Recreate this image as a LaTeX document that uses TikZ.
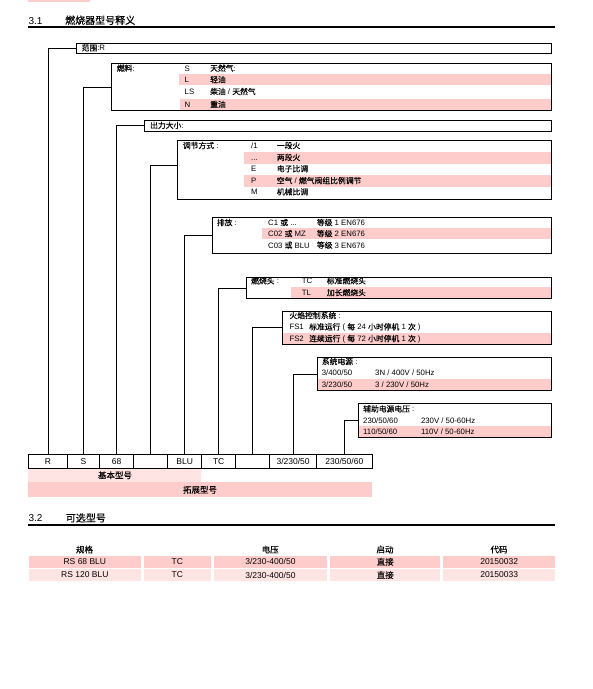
\documentclass[tikz,border=0pt]{standalone}
\usepackage{fontspec}
\setmainfont{Liberation Sans}
\newfontfamily\cjkfont{Noto Sans CJK SC}[FakeBold=0.4]
\XeTeXinterchartokenstate=1
\newcount\cjkcount
\cjkcount="4E00
\loop
  \XeTeXcharclass\cjkcount=77
  \advance\cjkcount by 1
  \ifnum\cjkcount<"A000
\repeat
\XeTeXinterchartoks 0 77 = {\cjkfont}
\XeTeXinterchartoks 4095 77 = {\cjkfont}
\XeTeXinterchartoks 77 0 = {\rmfamily}
\XeTeXinterchartoks 77 4095 = {\rmfamily}
\definecolor{pinkrow}{RGB}{255,204,204}
\definecolor{pinklite}{RGB}{255,228,228}
\begin{document}
\begin{tikzpicture}[x=1pt, y=-1pt,
        box/.style={draw, line width=0.8pt, anchor=north west, inner sep=0pt},
        txt/.style={anchor=base west, inner sep=0pt, font=\fontsize{7.8}{9}\selectfont},
        code/.style={draw, line width=0.8pt, anchor=north west, inner sep=0pt, minimum height=14pt, font=\fontsize{8.5}{10}\selectfont},
        cell/.style={anchor=north west, inner sep=0pt, font=\fontsize{8.5}{10}\selectfont},
        colhead/.style={anchor=base, inner sep=0pt, font=\fontsize{8.5}{10}\selectfont},
        head/.style={anchor=base west, inner sep=0pt, font=\fontsize{10}{12}\selectfont},
        link/.style={line width=0.8pt}]
        \useasboundingbox (0,0) rectangle (593,689);
        \fill[pinkrow] (28.3,0) rectangle (90,1.5);

        \node[head] (num31) at (28.3,24) {3.1};
        \node[head] (title31) at (65,24) {燃烧器型号释义};
        \draw[line width=2pt] (28.3,26.7) -- (555,26.7);

        \fill[pinkrow] (178.5,74) rectangle (550.5,85.3);
        \fill[pinkrow] (180,99.3) rectangle (550.5,110.3);
        \fill[pinkrow] (244,152.3) rectangle (550.5,163.5);
        \fill[pinkrow] (244,175) rectangle (550.5,186.7);
        \fill[pinkrow] (262.3,228.3) rectangle (550.5,239.3);
        \fill[pinkrow] (291,287.3) rectangle (550.5,298.3);
        \fill[pinkrow] (282.3,333.3) rectangle (550.5,344);
        \fill[pinkrow] (316.7,379.3) rectangle (550.5,390.3);
        \fill[pinkrow] (357.7,426) rectangle (550.5,437);

        \node[box, minimum width=474.5pt, minimum height=10.6pt] (range) at (76,42.7) {};
        \node[box, minimum width=439.2pt, minimum height=47.6pt] (fuel) at (111.3,62.7) {};
        \node[box, minimum width=406.2pt, minimum height=11.8pt] (power) at (144.3,119.5) {};
        \node[box, minimum width=373.2pt, minimum height=58.3pt] (modul) at (177.3,140.3) {};
        \node[box, minimum width=339pt, minimum height=36.1pt] (emis) at (211.5,217.2) {};
        \node[box, minimum width=304.8pt, minimum height=21.6pt] (head) at (245.7,276.7) {};
        \node[box, minimum width=268.2pt, minimum height=33.3pt] (flame) at (282.3,310.7) {};
        \node[box, minimum width=233.8pt, minimum height=33.6pt] (supply) at (316.7,356.7) {};
        \node[box, minimum width=192.8pt, minimum height=33.7pt] (aux) at (357.7,403.3) {};

        \node[txt] (rangeT) at (81.5,50.8) {范围:R};

        \node[txt] (fuelT) at (116.7,71.1) {燃料:};
        \node[txt] (fuelS) at (184.5,71.1) {S};
        \node[txt] (fuelSd) at (210,71.1) {天然气:};
        \node[txt] (fuelL) at (184.5,82.6) {L};
        \node[txt] (fuelLd) at (210,82.6) {轻油};
        \node[txt] (fuelLS) at (184.5,94.5) {LS};
        \node[txt] (fuelLSd) at (210,94.5) {柴油 / 天然气};
        \node[txt] (fuelN) at (184.5,107.3) {N};
        \node[txt] (fuelNd) at (210,107.3) {重油};

        \node[txt] (powerT) at (150,128.3) {出力大小:};

        \node[txt] (modulT) at (182.7,148.5) {调节方式 :};
        \node[txt] (mod1) at (251,148.5) {/1};
        \node[txt] (mod1d) at (276.7,148.5) {一段火};
        \node[txt] (mod2) at (251,160.4) {...};
        \node[txt] (mod2d) at (276.7,160.4) {两段火};
        \node[txt] (modE) at (251,171.7) {E};
        \node[txt] (modEd) at (276.7,171.7) {电子比调};
        \node[txt] (modP) at (251,183.6) {P};
        \node[txt] (modPd) at (276.7,183.6) {空气 / 燃气阀组比例调节};
        \node[txt] (modM) at (251,194.8) {M};
        \node[txt] (modMd) at (276.7,194.8) {机械比调};

        \node[txt] (emisT) at (216.7,225.5) {排放 :};
        \node[txt] (emis1) at (268,225.5) {C1 或 ...};
        \node[txt] (emis1d) at (316.7,225.5) {等级 1 EN676};
        \node[txt] (emis2) at (268,236.6) {C02 或 MZ};
        \node[txt] (emis2d) at (316.7,236.6) {等级 2 EN676};
        \node[txt] (emis3) at (268,248.1) {C03 或 BLU};
        \node[txt] (emis3d) at (316.7,248.1) {等级 3 EN676};

        \node[txt] (headT) at (251,283.8) {燃烧头 :};
        \node[txt] (headTC) at (301.7,283.8) {TC};
        \node[txt] (headTCd) at (326.7,283.8) {标准燃烧头};
        \node[txt] (headTL) at (301.7,295.6) {TL};
        \node[txt] (headTLd) at (326.7,295.6) {加长燃烧头};

        \node[txt] (flameT) at (289.3,318.5) {火焰控制系统 :};
        \node[txt] (fs1) at (289.3,329.8) {FS1};
        \node[txt] (fs1d) at (309,329.8) {标准运行 ( 每 24 小时停机 1 次 )};
        \node[txt] (fs2) at (289.3,341.5) {FS2};
        \node[txt] (fs2d) at (309,341.5) {连续运行 ( 每 72 小时停机 1 次 )};

        \node[txt] (supplyT) at (321.7,364.5) {系统电源 :};
        \node[txt] (sup1) at (321.7,375.3) {3/400/50};
        \node[txt] (sup1d) at (375,375.3) {3N / 400V / 50Hz};
        \node[txt] (sup2) at (321.7,387.6) {3/230/50};
        \node[txt] (sup2d) at (375,387.6) {3 / 230V / 50Hz};

        \node[txt] (auxT) at (363,411.8) {辅助电源电压 :};
        \node[txt] (aux1) at (363,423.1) {230/50/60};
        \node[txt] (aux1d) at (420.8,423.1) {230V / 50-60Hz};
        \node[txt] (aux2) at (363,434.3) {110/50/60};
        \node[txt] (aux2d) at (420.8,434.3) {110V / 50-60Hz};

        \fill[pinklite] (28.3,468.3) rectangle (201.3,482);
        \fill[pinkrow] (28.3,482.3) rectangle (371.7,497.3);
        \node[inner sep=0pt, font=\fontsize{8.5}{10}\selectfont] (baseT) at (115,475.2) {基本型号};
        \node[inner sep=0pt, font=\fontsize{8.5}{10}\selectfont] (extT) at (200,489.8) {拓展型号};

        \node[code, minimum width=38.4pt] (cR) at (28.3,454.3) {R};
        \node[code, minimum width=32.6pt] (cS) at (66.7,454.3) {S};
        \node[code, minimum width=34pt] (c68) at (99.3,454.3) {68};
        \node[code, minimum width=34pt] (cMod) at (133.3,454.3) {};
        \node[code, minimum width=34pt] (cBLU) at (167.3,454.3) {BLU};
        \node[code, minimum width=34pt] (cTC) at (201.3,454.3) {TC};
        \node[code, minimum width=34pt] (cFS) at (235.3,454.3) {};
        \node[code, minimum width=46.9pt] (cVolt) at (269.3,454.3) {3/230/50};
        \node[code, minimum width=55.5pt] (cAux) at (316.2,454.3) {230/50/60};

        \draw[link] (range.west) -| (cR.north);
        \draw[link] (fuel.west) -| (cS.north);
        \draw[link] (power.west) -| (c68.north);
        \draw[link] ([yshift=4pt]modul.west) -| (cMod.north);
        \draw[link] (emis.west) -| (cBLU.north);
        \draw[link] (head.west) -| (cTC.north);
        \draw[link] (flame.west) -| (cFS.north);
        \draw[link] (supply.west) -| (cVolt.north);
        \draw[link] (aux.west) -| (cAux.north);

        \node[head] (num32) at (28.3,521.7) {3.2};
        \node[head] (title32) at (65.7,521.7) {可选型号};
        \draw[line width=2pt] (28.3,525) -- (555,525);

        \node[colhead] (hSpec) at (84.6,552.8) {规格};
        \node[colhead] (hVolt) at (270.2,552.8) {电压};
        \node[colhead] (hStart) at (385,552.8) {启动};
        \node[colhead] (hCode) at (499,552.8) {代码};

        \node[cell, fill=pinkrow, minimum width=112.7pt, minimum height=11.6pt] (r1spec) at (28.3,555.7) {RS 68 BLU};
        \node[cell, fill=pinkrow, minimum width=67.7pt, minimum height=11.6pt] (r1head) at (143.3,555.7) {TC};
        \node[cell, fill=pinkrow, minimum width=113.5pt, minimum height=11.6pt] (r1volt) at (213.5,555.7) {3/230-400/50};
        \node[cell, fill=pinkrow, minimum width=110pt, minimum height=11.6pt] (r1start) at (330,555.7) {直接};
        \node[cell, fill=pinkrow, minimum width=112pt, minimum height=11.6pt] (r1code) at (443,555.7) {20150032};

        \node[cell, fill=pinklite, minimum width=112.7pt, minimum height=11.7pt] (r2spec) at (28.3,569) {RS 120 BLU};
        \node[cell, fill=pinklite, minimum width=67.7pt, minimum height=11.7pt] (r2head) at (143.3,569) {TC};
        \node[cell, fill=pinklite, minimum width=113.5pt, minimum height=11.7pt] (r2volt) at (213.5,569) {3/230-400/50};
        \node[cell, fill=pinklite, minimum width=110pt, minimum height=11.7pt] (r2start) at (330,569) {直接};
        \node[cell, fill=pinklite, minimum width=112pt, minimum height=11.7pt] (r2code) at (443,569) {20150033};
    \end{tikzpicture}
\end{document}
